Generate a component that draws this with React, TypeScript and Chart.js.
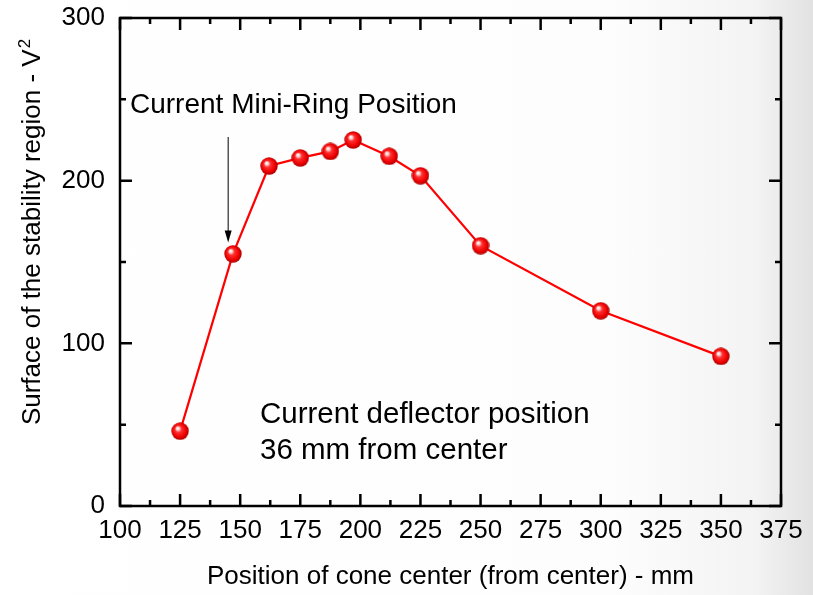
import React, { useEffect, useRef } from 'react';
import { Chart, registerables } from 'chart.js';
Chart.register(...registerables);

const positions = [125, 147, 162, 175, 187.5, 197, 212, 225, 250, 300, 350];
const surfaces = [46, 155, 209, 214, 218, 225, 215, 203, 160, 120, 92];
const xTitle = 'Position of cone center (from center) - mm';
const yTitle = 'Surface of the stability region - V';
const yTitleSup = '2';
const arrowLabel = 'Current Mini-Ring Position';
const noteLines = ['Current deflector position', '36 mm from center'];

const FONT = '"Liberation Sans", Arial, sans-serif';

function makeSphere(d: number): HTMLCanvasElement {
  const c = document.createElement('canvas');
  c.width = d; c.height = d;
  const g = c.getContext('2d')!;
  const r = d / 2;
  const grad = g.createRadialGradient(r - r * 0.3, r - r * 0.35, 0.3, r, r, r);
  grad.addColorStop(0, '#ffffff');
  grad.addColorStop(0.15, '#ffd0d0');
  grad.addColorStop(0.35, '#ff3030');
  grad.addColorStop(0.75, '#ee0000');
  grad.addColorStop(1, '#a00000');
  g.fillStyle = grad;
  g.beginPath();
  g.arc(r, r, r - 0.3, 0, Math.PI * 2);
  g.fill();
  return c;
}

const framePlugin = {
  id: 'framePlugin',
  afterDraw(chart: any) {
    const { ctx, chartArea: a, scales } = chart;
    const xs = scales.x, ys = scales.y;
    ctx.save();
    ctx.strokeStyle = '#000';
    ctx.lineWidth = 2.5;
    ctx.lineCap = 'butt';
    ctx.strokeRect(a.left, a.top, a.right - a.left, a.bottom - a.top);
    ctx.beginPath();
    for (let v = 100; v <= 375; v += 12.5) {
      const px = xs.getPixelForValue(v);
      const len = Math.abs((v / 25) - Math.round(v / 25)) < 1e-6 ? 12 : 6;
      ctx.moveTo(px, a.bottom); ctx.lineTo(px, a.bottom - len);
      ctx.moveTo(px, a.top); ctx.lineTo(px, a.top + len);
    }
    for (let v = 0; v <= 300; v += 50) {
      const py = ys.getPixelForValue(v);
      const len = v % 100 === 0 ? 12 : 6;
      ctx.moveTo(a.left, py); ctx.lineTo(a.left + len, py);
      ctx.moveTo(a.right, py); ctx.lineTo(a.right - len, py);
    }
    ctx.stroke();

    // titles
    ctx.fillStyle = '#000';
    ctx.font = `26px ${FONT}`;
    ctx.textAlign = 'center';
    ctx.textBaseline = 'middle';
    ctx.fillText(xTitle, (a.left + a.right) / 2, 577);

    ctx.save();
    ctx.font = `26px ${FONT}`;
    const mainW = ctx.measureText(yTitle).width;
    ctx.font = `17px ${FONT}`;
    const supW = ctx.measureText(yTitleSup).width;
    const total = mainW + supW + 1;
    ctx.translate(40, 232);
    ctx.rotate(-Math.PI / 2);
    ctx.textAlign = 'left';
    ctx.textBaseline = 'alphabetic';
    ctx.font = `26px ${FONT}`;
    ctx.fillText(yTitle, -total / 2, 0);
    ctx.font = `17px ${FONT}`;
    ctx.fillText(yTitleSup, -total / 2 + mainW + 1, -10);
    ctx.restore();

    // annotation arrow
    ctx.font = `28px ${FONT}`;
    ctx.textAlign = 'left';
    ctx.textBaseline = 'middle';
    ctx.fillText(arrowLabel, 130, 105);
    const ax = xs.getPixelForValue(145);
    const ayTop = 137;
    const ayBot = ys.getPixelForValue(162);
    ctx.lineWidth = 1;
    ctx.beginPath();
    ctx.moveTo(ax, ayTop); ctx.lineTo(ax, ayBot - 8);
    ctx.stroke();
    ctx.beginPath();
    ctx.moveTo(ax, ayBot);
    ctx.lineTo(ax - 3.5, ayBot - 12);
    ctx.lineTo(ax + 3.5, ayBot - 12);
    ctx.closePath();
    ctx.fill();

    ctx.font = `29.5px ${FONT}`;
    ctx.fillText(noteLines[0], 260, 415);
    ctx.fillText(noteLines[1], 260, 451);
    ctx.restore();
  },
};

export default function App() {
  const ref = useRef<HTMLCanvasElement | null>(null);
  useEffect(() => {
    const sphere = makeSphere(18);
    const chart = new Chart(ref.current!, {
      type: 'scatter',
      data: {
        datasets: [{
          data: positions.map((x, i) => ({ x, y: surfaces[i] })),
          showLine: true,
          borderColor: '#ff0000',
          borderWidth: 2.2,
          pointStyle: sphere as any,
          pointRadius: 9,
        }],
      },
      options: {
        animation: false,
        responsive: false,
        events: [],
        layout: { padding: { left: 0, right: 32, top: 18, bottom: 0 } },
        plugins: { legend: { display: false }, tooltip: { enabled: false } },
        scales: {
          x: {
            type: 'linear', min: 100, max: 375,
            afterFit: (s: any) => { s.height = 89; s.paddingLeft = 0; s.paddingRight = 0; },
            grid: { display: false, drawTicks: false },
            border: { display: false },
            ticks: { stepSize: 25, padding: 9, color: '#000', font: { family: FONT, size: 26 }, maxRotation: 0, autoSkip: false },
          },
          y: {
            type: 'linear', min: 0, max: 300,
            afterFit: (s: any) => { s.width = 120; s.paddingTop = 0; s.paddingBottom = 0; },
            grid: { display: false, drawTicks: false },
            border: { display: false },
            ticks: { stepSize: 100, padding: 15, color: '#000', font: { family: FONT, size: 26 } },
          },
        },
      },
      plugins: [framePlugin],
    });
    return () => chart.destroy();
  }, []);
  return (
    <div style={{ position: 'fixed', left: 0, top: 0, width: 813, height: 595, background: 'linear-gradient(to right, #ffffff 0%, #fdfdfd 75%, #f3f3f3 93%, #e2e2e2 100%)' }}>
      <canvas ref={ref} width={813} height={595} style={{ display: 'block', width: 813, height: 595 }} />
    </div>
  );
}
